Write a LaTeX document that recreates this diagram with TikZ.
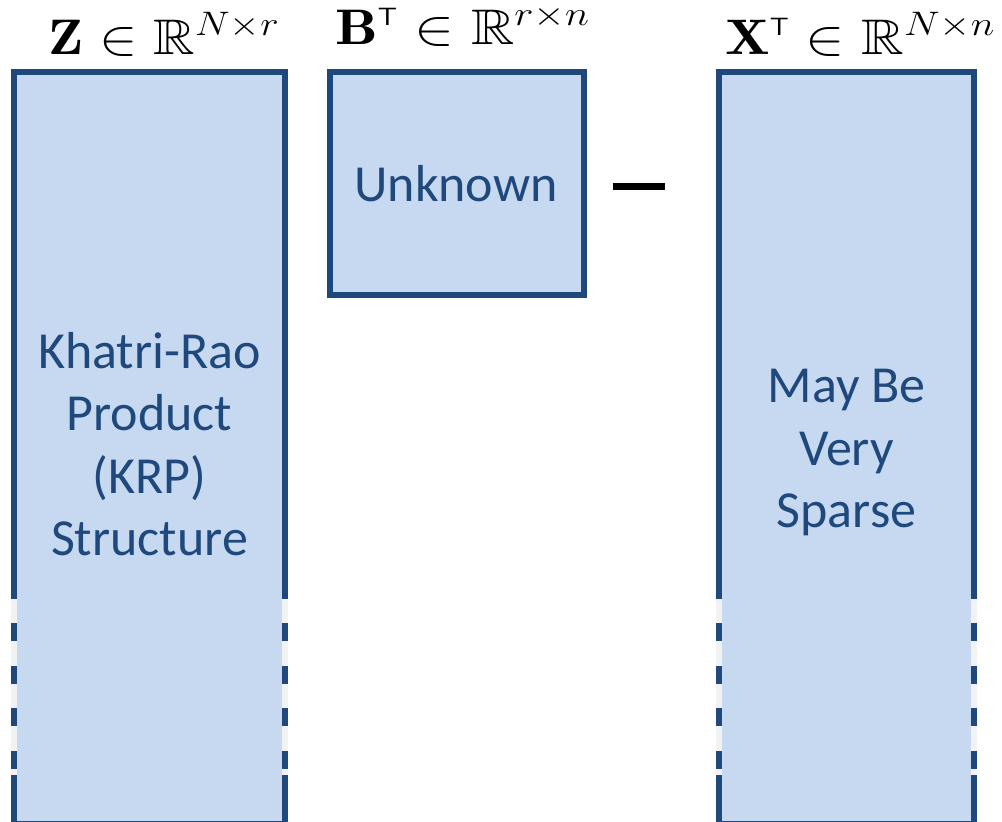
\RequirePackage{fix-cm}
\documentclass[tikz,border=0pt]{standalone}
\usepackage{amsmath,amssymb,graphicx}
\DeclareFontFamily{U}{msb}{}
\DeclareFontShape{U}{msb}{m}{n}{<-6> msbm5 <6-8> msbm7 <8-> msbm10}{}
\DeclareMathSizes{50}{50}{34}{25}
\usepackage{fontspec}
\newfontfamily\boxfont{Carlito}
\definecolor{edge}{HTML}{1F497D}
\definecolor{panel}{HTML}{C6D9F0}
\definecolor{gapc}{HTML}{F2F2F2}
\newcommand{\tp}{{\scriptscriptstyle\mathsf{T}}}
\newcommand{\widemath}[2]{\scalebox{#1}[1]{$#2$}}
\tikzset{
  matbox/.style={draw=edge, fill=panel, line width=6pt, rectangle, inner sep=0pt},
  boxtext/.style={text=edge, align=center, inner sep=0pt,
    font=\boxfont\fontsize{52}{62.5}\selectfont},
  mathlabel/.style={anchor=base west, inner sep=0pt,
    font=\fontsize{50}{56}\selectfont},
  gapfill/.style={fill=gapc, draw=none}
}
\begin{document}
\begin{tikzpicture}[x=1pt, y=-1pt]
\useasboundingbox (0,0) rectangle (1002,822);

% the three matrices
\node[matbox, minimum width=271pt, minimum height=752.5pt] (Z) at (149.5,447.75) {};
\node[matbox, minimum width=254pt, minimum height=223.5pt] (B) at (457,183.25) {};
\node[matbox, minimum width=255pt, minimum height=752.5pt] (X) at (846.5,447.75) {};

% broken side edges of the tall matrices
\foreach \xs in {14,285,719,974}{
  \foreach \ya/\yb in {599/623, 641/666, 684/708, 726/751, 769/775}{
    \fill[gapfill] (\xs-3.2,\ya) rectangle (\xs+3.2,\yb);
  }
}

% texts inside the matrices
\node[boxtext] (Zt) at (149.5,444) {Khatri-Rao\\Product\\(KRP)\\Structure};
\node[boxtext] (Bt) at (456,184) {Unknown};
\node[boxtext] (Xt) at (846.5,453) {May Be\\Very\\Sparse};

% matrix names
\node[mathlabel] (Zl) at (48,54) {\widemath{1.15}{\mathbf{Z}\in\mathbb{R}^{N\times r}}};
\node[mathlabel] (Bl) at (335,44) {\widemath{1.2}{\mathbf{B}^{\tp}\in\mathbb{R}^{r\times n}}};
\node[mathlabel] (Xl) at (725,54) {\widemath{1.18}{\mathbf{X}^{\tp}\in\mathbb{R}^{N\times n}}};

% minus sign
\coordinate (m1) at (613,186.5);
\coordinate (m2) at (665,186.5);
\draw[line width=6.5pt] (m1) -- (m2);
\end{tikzpicture}
\end{document}
